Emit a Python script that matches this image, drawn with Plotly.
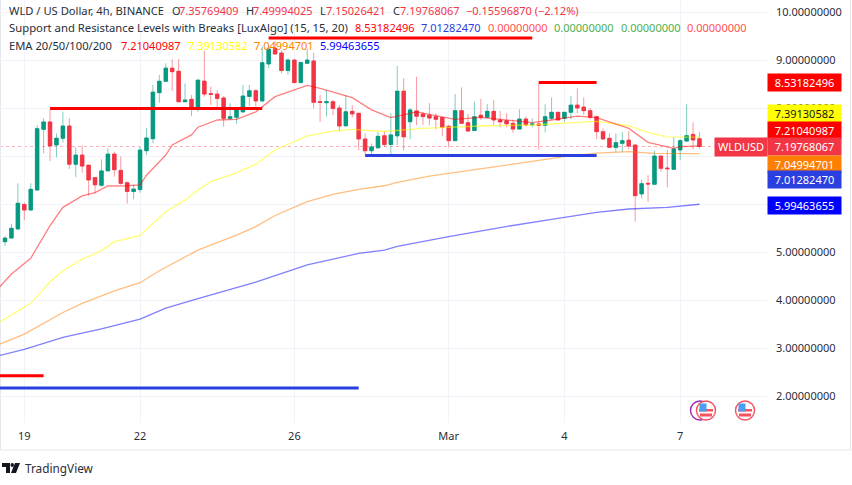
import pandas as pd
import plotly.graph_objects as go

# ---------- data ----------
START = pd.Timestamp("2024-02-18 12:00")
open_ = [5.215,5.29,5.48,5.99,5.875,6.29,7.556,7.71,7.23,7.37,
 7.625,6.83,7.02,6.81,6.55,6.39,6.69,7.04,6.70,6.445,
 6.26,6.30,7.11,7.36,8.32,8.556,8.83,8.764,8.13,8.18,
 7.99,8.56,8.30,8.29,8.21,7.78,7.805,7.92,8.24,8.36,
 8.146,8.917,9.243,9.146,8.78,9.0,8.53,8.93,8.98,8.13,
 8.11,8.13,8.0,7.63,7.93,7.89,7.354,7.11,7.17,7.42,
 7.24,7.42,8.35,7.715,7.94,7.875,7.85,7.82,7.8,7.62,
 7.32,7.945,7.695,7.53,7.85,7.806,7.93,7.75,7.736,7.68,
 7.56,7.77,7.65,7.667,7.64,7.785,7.91,7.785,7.91,8.06,
 8.02,7.945,7.82,7.507,7.368,7.18,7.264,7.33,7.23,6.21,
 6.43,6.41,7.0,6.75,6.722,7.125,7.31,7.45,7.35769409]
high = [5.33,5.583,6.43,6.03,6.43,7.64,7.785,7.96,7.47,7.924,
 7.79,7.18,7.22,6.81,6.55,6.93,7.16,7.09,6.99,6.47,
 6.40,7.2,7.58,8.48,8.69,8.93,9.015,9.015,8.51,8.27,
 8.6,9.19,8.445,8.375,8.25,8.1,7.96,8.48,8.48,8.39,
 9.28,9.3,9.4,9.2,9.035,9.014,8.95,9.23,9.15,8.27,
 8.375,8.17,8.06,8.27,8.06,7.89,7.47,7.26,7.5,7.52,
 7.89,8.875,8.62,8.0,8.65,7.92,8.1,7.89,7.8,7.646,
 8.29,8.43,7.875,8.13,8.19,8.08,8.167,7.94,7.89,7.76,
 7.97,7.82,7.785,8.514,8.08,8.22,7.92,7.92,8.25,8.41,
 8.22,8.0,7.84,7.576,7.47,7.47,7.5,7.52,7.23,6.514,
 6.6,7.11,7.0,7.125,7.39,7.347,8.08,7.7,7.49994025]
low = [5.125,5.28,5.46,5.667,5.855,6.29,7.056,6.896,6.97,7.28,
 6.73,6.56,6.65,6.17,6.22,6.36,6.69,6.57,6.40,6.01,
 6.10,6.235,7.02,7.27,8.11,8.55,8.36,8.12,8.13,7.83,
 7.92,8.235,8.06,7.99,7.61,7.75,7.67,7.89,8.04,8.03,
 8.13,8.826,9.12,8.72,8.69,8.51,8.51,8.93,7.99,7.71,
 7.82,7.85,7.52,7.61,7.805,7.125,7.02,7.04,7.16,7.19,
 7.04,7.23,7.11,7.35,7.645,7.646,7.646,7.556,7.417,7.18,
 7.32,7.67,7.5,7.52,7.75,7.8,7.646,7.6,7.6,7.486,
 7.55,7.61,7.6,7.125,7.49,7.75,7.74,7.715,7.764,7.89,
 7.855,7.764,7.35,7.33,7.17,7.08,7.08,7.14,5.632,6.118,
 6.05,6.41,6.674,6.347,6.71,6.917,7.3,7.139,7.15026421]
close = [5.29,5.493,6.015,5.875,6.306,7.57,7.71,7.21,7.37,7.625,
 6.83,7.02,6.79,6.5,6.40,6.69,7.04,6.715,6.43,6.26,
 6.31,7.125,7.375,8.33,8.556,8.83,8.757,8.13,8.167,7.99,
 8.58,8.29,8.285,8.2,7.785,7.82,7.96,8.25,8.36,8.146,
 8.944,9.23,9.125,8.78,9.0,8.53,8.95,9.0,8.118,8.118,
 8.13,7.99,7.625,7.92,7.875,7.354,7.11,7.19,7.41,7.24,
 7.44,8.35,7.40,7.96,7.83,7.82,7.79,7.764,7.6,7.32,
 7.945,7.68,7.52,7.82,7.806,7.93,7.75,7.71,7.67,7.56,
 7.77,7.65,7.667,7.64,7.82,7.91,7.75,7.91,8.06,8.0,
 7.945,7.806,7.507,7.354,7.18,7.278,7.32,7.208,6.174,6.424,
 6.417,7.0,6.743,6.736,7.146,7.32,7.424,7.333,7.19768067]

ema20_idx = [-1,1,4,7,9,12,14,16,19,21,22,25,26,29,30,33,36,39,42,45,47,49,51,54,57,60,64,68,70,74,82,85,89,92,97,100,104,105,108]
ema20_val = [4.25,4.54,4.87,5.55,5.93,6.167,6.236,6.375,6.38,6.396,6.6,7.02,7.23,7.44,7.6,7.75,7.764,7.92,8.236,8.375,8.47,8.41,8.33,8.215,7.96,7.8,7.92,7.82,7.764,7.806,7.695,7.75,7.83,7.8,7.576,7.285,7.16,7.195,7.21040987]
ema50_idx = [-1,4,7,9,12,15,17,21,22,25,28,30,32,36,39,42,47,51,54,59,65,70,75,82,86,92,97,100,103,108]
ema50_val = [3.53,3.93,4.38,4.61,4.85,5.03,5.215,5.34,5.47,5.84,6.08,6.29,6.465,6.65,6.83,7.125,7.42,7.52,7.555,7.51,7.575,7.61,7.63,7.646,7.68,7.72,7.63,7.49,7.40,7.39130582]
ema100_idx = [-1,3,9,12,17,21,24,27,30,33,36,39,42,47,51,55,59,61,66,72,80,87,92,97,101,108]
ema100_val = [3.07,3.29,3.74,3.93,4.19,4.36,4.61,4.83,5.04,5.195,5.35,5.53,5.76,6.05,6.2,6.305,6.38,6.45,6.58,6.695,6.847,6.986,7.06,7.09,7.055,7.04994701]
ema200_idx = [-1,3,9,15,21,25,30,35,39,47,51,55,59,61,69,77,85,92,97,103,108]
ema200_val = [2.84,2.97,3.22,3.40,3.60,3.83,4.03,4.21,4.37,4.73,4.855,4.97,5.04,5.118,5.32,5.51,5.68,5.826,5.896,5.93,5.99463655]

# support / resistance segments: (first candle, last candle, level)
resistance = [(-1, 6, 2.42), (7, 40, 7.99), (41, 82, 9.46), (83, 92, 8.53182496)]
support = [(-1, 55, 2.167), (56, 92, 7.0128247)]

y_ticks = [10, 9, 8, 7, 6, 5, 4, 3, 2]
# the 7 and 6 labels sit fully behind the price badges in the reference
y_tick_text = ["10.00000000", "9.00000000", "8.00000000", "", "", "5.00000000", "4.00000000", "3.00000000", "2.00000000"]
x_tick_dates = ["2024-02-19", "2024-02-22", "2024-02-26", "2024-03-01", "2024-03-04", "2024-03-07"]
x_tick_text = ["19", "22", "26", "Mar", "4", "7"]

# ---------- style ----------
W, H = 852, 485
PLOT_R, PLOT_B = 767, 423
FONT = "Noto Sans"
TXT = "#2a2e39"
UP, DOWN = "#089981", "#f23645"
UP_WICK, DOWN_WICK = "rgba(8,153,129,0.5)", "rgba(242,54,69,0.5)"
SR_BLUE = "#2a3fe0"

def t(i):
    return START + pd.Timedelta(hours=4) * i

def px(x):
    return x / PLOT_R

def py(y):
    return (PLOT_B - y) / PLOT_B

n = len(open_)
dates = [t(i) for i in range(n)]

fig = go.Figure()
fig.add_trace(go.Candlestick(
    x=dates, open=open_, high=high, low=low, close=close, whiskerwidth=0,
    increasing=dict(line=dict(color=UP_WICK, width=1), fillcolor=UP),
    decreasing=dict(line=dict(color=DOWN_WICK, width=1), fillcolor=DOWN),
    hoverinfo="skip", showlegend=False))
fig.add_trace(go.Candlestick(
    x=dates, open=open_, close=close,
    high=[max(a, b) for a, b in zip(open_, close)],
    low=[min(a, b) for a, b in zip(open_, close)], whiskerwidth=0,
    increasing=dict(line=dict(color=UP, width=0.6), fillcolor=UP),
    decreasing=dict(line=dict(color=DOWN, width=0.6), fillcolor=DOWN),
    hoverinfo="skip", showlegend=False))

for idx, val, col in [
    (ema200_idx, ema200_val, "rgba(0,0,255,0.5)"),
    (ema100_idx, ema100_val, "rgba(255,127,0,0.5)"),
    (ema50_idx, ema50_val, "rgba(255,255,0,0.55)"),
    (ema20_idx, ema20_val, "rgba(255,0,0,0.5)"),
]:
    fig.add_trace(go.Scatter(x=[t(i) for i in idx], y=val, mode="lines",
                             line=dict(color=col, width=1.3), hoverinfo="skip", showlegend=False))

for segs, col in [(support, SR_BLUE), (resistance, "#ff0000")]:
    for a, b, lvl in segs:
        fig.add_trace(go.Scatter(x=[t(a), t(b)], y=[lvl, lvl], mode="lines",
                                 line=dict(color=col, width=3), hoverinfo="skip", showlegend=False))

shapes = [
    dict(type="line", xref="paper", x0=0, x1=1, yref="y", y0=close[-1], y1=close[-1],
         line=dict(color="rgba(242,54,69,0.4)", width=1, dash="dot"), layer="below"),
    dict(type="rect", xref="paper", yref="paper", x0=px(0.5), x1=px(W - 1.5), y0=py(450), y1=py(-2),
         line=dict(color="#e6e8f0", width=1), layer="below"),
]

def flag(cx, cy):
    out = [dict(type="circle", xref="paper", yref="paper", x0=px(cx - 9.5), x1=px(cx + 9.5),
                y0=py(cy + 9.5), y1=py(cy - 9.5), fillcolor="white",
                line=dict(color="#f7525f", width=1.4))]
    for x0, x1, y0, y1, c in [
        (cx - 7, cx + 7, cy - 1.5, cy + 1, "#f7525f"),
        (cx - 6, cx + 6, cy + 3, cy + 6, "#f7525f"),
        (cx - 6.5, cx + 0.5, cy - 7, cy + 1, "#4a9ff0"),
    ]:
        out.append(dict(type="rect", xref="paper", yref="paper", x0=px(x0), x1=px(x1),
                        y0=py(y1), y1=py(y0), fillcolor=c, line=dict(width=0)))
    return out

shapes.append(dict(type="circle", xref="paper", yref="paper", x0=px(690.5), x1=px(709.5),
                   y0=py(420), y1=py(401), fillcolor="white", line=dict(color="#9c27b0", width=1.4)))
shapes += flag(706, 410.5)
shapes += flag(745, 410.5)

# TradingView logo
def pth(points):
    d = "M " + " L ".join(f"{px(x):.5f} {py(y):.5f}" for x, y in points) + " Z"
    return dict(type="path", xref="paper", yref="paper", path=d, fillcolor="#131722", line=dict(width=0))
shapes += [pth([(2, 463), (10, 463), (10, 473), (6, 473), (6, 467), (2, 467)]),
           pth([(15, 463), (20, 463), (16, 473), (11, 473)])]
shapes.append(dict(type="circle", xref="paper", yref="paper", x0=px(10.5), x1=px(14),
                   y0=py(467), y1=py(463), fillcolor="#131722", line=dict(width=0)))

def label(x, y, text, color=TXT, size=11):
    return dict(xref="paper", yref="paper", x=px(x - 1.5), y=py(y), xanchor="left", yanchor="middle",
                text=text, showarrow=False, font=dict(family=FONT, size=size, color=color))

annotations = [
    label(8, 10.5, "WLD / US Dollar, 4h, BINANCE", size=11.2),
    label(171, 10.5, "O"), label(178, 10.5, "7.35769409", DOWN),
    label(245, 10.5, "H"), label(252, 10.5, "7.49994025", DOWN),
    label(319, 10.5, "L"), label(325, 10.5, "7.15026421", DOWN),
    label(392, 10.5, "C"), label(399, 10.5, "7.19768067", DOWN),
    label(465, 10.5, "−0.15596870 (−2.12%)", DOWN),
    label(8, 28, "Support and Resistance Levels with Breaks [LuxAlgo] (15, 15, 20)", size=11.3),
    label(354, 28, "8.53182496", "#ff0000"), label(421, 28, "7.01282470", SR_BLUE),
    label(487, 28, "0.00000000", "#ff5252"), label(553, 28, "0.00000000", "#4caf50"),
    label(620, 28, "0.00000000", "#4caf50"), label(686, 28, "0.00000000", "#ff5252"),
    label(8, 45, "EMA 20/50/100/200", size=11.2),
    label(120, 45, "7.21040987", "#ff0000"), label(187, 45, "7.39130582", "#ffff00"),
    label(253, 45, "7.04994701", "#ff7f00"), label(319, 45, "5.99463655", "#0000ff"),
    label(24, 468, "TradingView", "#2a2e39", 11.8),
]

# price badges on the right axis (stacked as in the reference)
badges = [
    (83, "8.53182496", "#ff0000", "white"),
    (113, "7.39130582", "#ffff00", "#131722"),
    (130.5, "7.21040987", "#ff0000", "white"),
    (147, "7.19768067", DOWN, "white"),
    (164, "7.04994701", "#ff7f00", "white"),
    (180, "7.01282470", SR_BLUE, "white"),
    (205, "5.99463655", "#0000ff", "white"),
]
for y, text, bg, fg in badges:
    annotations.append(dict(xref="paper", yref="paper", x=1, y=py(y), xanchor="left", yanchor="middle",
                            text=text, showarrow=False, width=73, height=16.5, bgcolor=bg, borderpad=0,
                            align="center", font=dict(family=FONT, size=11, color=fg)))
annotations.append(dict(xref="paper", yref="paper", x=px(714), y=py(147), xanchor="left", yanchor="middle",
                        text="WLDUSD", showarrow=False, width=52, height=17.5, bgcolor=DOWN, borderpad=0,
                        align="center", font=dict(family=FONT, size=11, color="white")))

fig.update_layout(
    width=W, height=H, paper_bgcolor="white", plot_bgcolor="white",
    margin=dict(l=0, r=W - PLOT_R, t=0, b=H - PLOT_B, pad=0),
    shapes=shapes, annotations=annotations, showlegend=False,
    hovermode=False, dragmode=False, boxgap=0.22,
    xaxis=dict(type="date", range=[t(-0.78), t(118.5)], rangeslider=dict(visible=False),
               tickmode="array", tickvals=x_tick_dates, ticktext=x_tick_text,
               showgrid=True, gridcolor="#f0f3fa", gridwidth=1, zeroline=False, showline=False, ticks="",
               tickfont=dict(family=FONT, size=11, color=TXT), ticklabelstandoff=5),
    yaxis=dict(side="right", range=[1.4375, 10.25], tickmode="array", tickvals=y_ticks,
               ticktext=y_tick_text, showgrid=True, gridcolor="#f0f3fa", gridwidth=1, zeroline=False,
               showline=False, ticks="", tickfont=dict(family=FONT, size=11, color=TXT),
               ticklabelstandoff=8),
)

fig.write_html("out.html", config=dict(displayModeBar=False, staticPlot=True),
               post_script="document.body.style.margin='0';document.body.style.overflow='hidden';")
